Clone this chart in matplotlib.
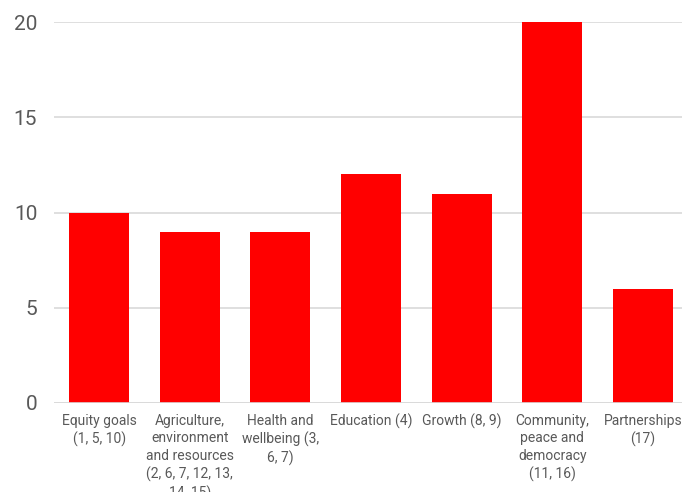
import matplotlib
matplotlib.use("Agg")
import matplotlib.pyplot as plt
import numpy as np

# category labels (line breaks as in the chart) and counts
categories = [
    "Equity goals\n(1, 5, 10)",
    "Agriculture,\nenvironment\nand resources\n(2, 6, 7, 12, 13,\n14, 15)",
    "Health and\nwellbeing (3,\n6, 7)",
    "Education (4)",
    "Growth (8, 9)",
    "Community,\npeace and\ndemocracy\n(11, 16)",
    "Partnerships\n(17)",
]
values = [10, 9, 9, 12, 11, 20, 6]
yticks = [0, 5, 10, 15, 20]

plt.rcParams["font.family"] = ["Roboto", "DejaVu Sans"]

fig = plt.figure(figsize=(6.82, 4.92), dpi=100)
ax = fig.add_axes([0.079, 0.181, 0.930, 0.774])

x = np.arange(len(categories))
ax.bar(x, values, width=0.66, color="#ff0000", zorder=3)

ax.set_xlim(-0.5, len(categories) - 0.5)
ax.set_ylim(0, 20)
ax.set_yticks(yticks)
ax.yaxis.grid(True, color="#d9d9d9", linewidth=1.2, zorder=0)
for s in ax.spines.values():
    s.set_visible(False)
ax.axhline(0, color="#d9d9d9", linewidth=1.2, zorder=4)

ax.set_xticks(x)
ax.set_xticklabels(categories, fontsize=10, color="#595959", linespacing=1.3, va="top")
ax.tick_params(axis="x", length=0, pad=8)
ax.tick_params(axis="y", length=0, pad=12, labelsize=15, labelcolor="#595959")

fig.savefig("out.png", dpi=100)
